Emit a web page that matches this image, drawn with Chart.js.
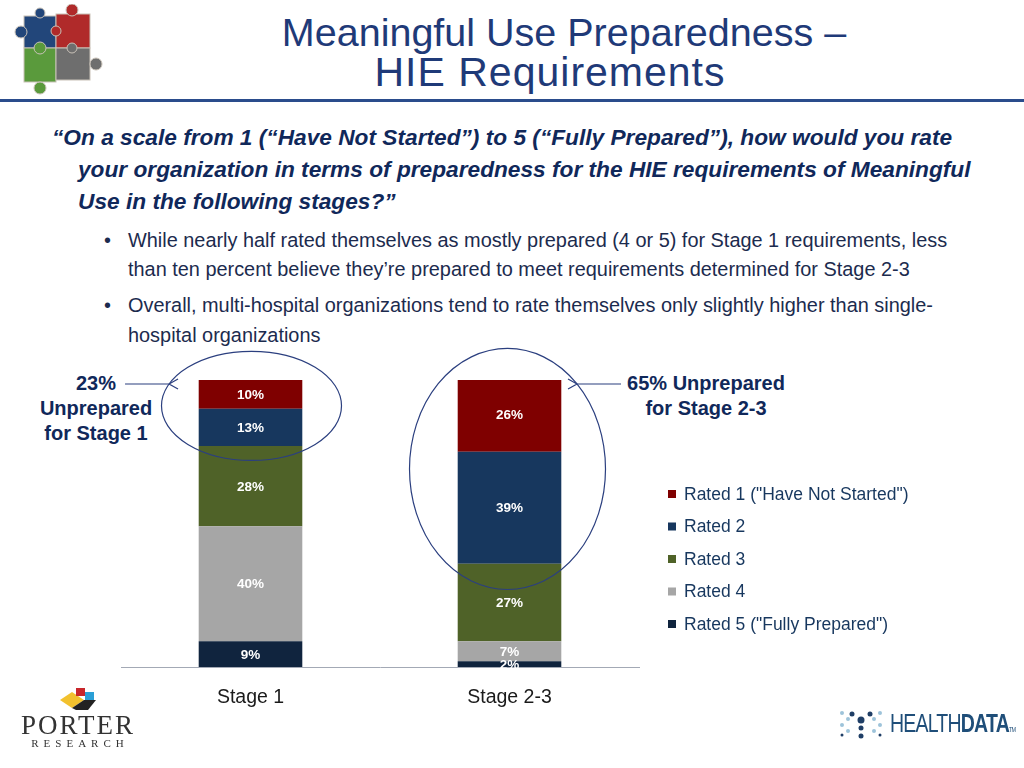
<!DOCTYPE html>
<html>
<head>
<meta charset="utf-8">
<script src="https://cdn.jsdelivr.net/npm/chart.js@4.4.0/dist/chart.umd.min.js"></script>
<style>
  html, body { margin: 0; padding: 0; background: #fff; }
  body { width: 1024px; height: 768px; position: relative; overflow: hidden; font-family: "Liberation Sans", Arial, sans-serif; }
  .abs { position: absolute; }
  .title { font-size: 39.5px; line-height: 40px; color: #1F3A78; white-space: nowrap; text-align: center; width: 700px; }
  #rule { left: 0; top: 99px; width: 1024px; height: 3px; background: #2A4C8C; }
  .q { font-size: 22.7px; line-height: 32px; font-weight: bold; font-style: italic; color: #10285A; white-space: nowrap; }
  .b { font-size: 19.9px; line-height: 29.5px; color: #1C2B4E; white-space: nowrap; }
  .note { font-size: 20px; line-height: 25px; font-weight: bold; color: #10285A; text-align: center; white-space: nowrap; }
  #chartBox { left: 0; top: 330px; width: 1024px; height: 430px; }
</style>
</head>
<body>
<svg class="abs" style="left:10px;top:4px" width="100" height="96" viewBox="0 0 100 96">
  <g stroke="#c9c2b8" stroke-width="1">
    <rect x="14" y="12" width="32" height="32" fill="#22467A"/>
    <circle cx="11" cy="28" r="6" fill="#22467A"/>
    <circle cx="30" cy="9" r="5" fill="#22467A"/>
    <rect x="46" y="10" width="34" height="34" fill="#B02A2A"/>
    <circle cx="62" cy="6" r="6" fill="#B02A2A"/>
    <circle cx="46" cy="27" r="5" fill="#B02A2A"/>
    <rect x="14" y="44" width="32" height="34" fill="#5A9A3C"/>
    <circle cx="30" cy="44" r="6" fill="#5A9A3C"/>
    <circle cx="30" cy="84" r="6" fill="#5A9A3C"/>
    <rect x="46" y="44" width="34" height="32" fill="#6E6E6E"/>
    <circle cx="86" cy="60" r="6" fill="#6E6E6E"/>
    <circle cx="62" cy="44" r="5" fill="#6E6E6E"/>
  </g>
</svg>
<div class="abs title" style="left:214px;top:12px">Meaningful Use Preparedness –</div>
<div class="abs title" style="left:200px;top:52px;font-size:41px;letter-spacing:1px">HIE Requirements</div>
<div id="rule" class="abs"></div>

<div class="abs q" style="left:52px;top:121px">“On a scale from 1 (“Have Not Started”) to 5 (“Fully Prepared”), how would you rate</div>
<div class="abs q" style="left:78px;top:153px">your organization in terms of preparedness for the HIE requirements of Meaningful</div>
<div class="abs q" style="left:78px;top:185px">Use in the following stages?”</div>

<div class="abs b" style="left:104px;top:226px">•</div>
<div class="abs b" style="left:128px;top:226px">While nearly half rated themselves as mostly prepared (4 or 5) for Stage 1 requirements, less</div>
<div class="abs b" style="left:128px;top:255px">than ten percent believe they’re prepared to meet requirements determined for Stage 2-3</div>
<div class="abs b" style="left:104px;top:291px">•</div>
<div class="abs b" style="left:128px;top:291px">Overall, multi-hospital organizations tend to rate themselves only slightly higher than single-</div>
<div class="abs b" style="left:128px;top:321px">hospital organizations</div>

<div class="abs note" style="left:16px;width:160px;top:371px">23%<br>Unprepared<br>for Stage 1</div>
<div class="abs note" style="left:606px;width:200px;top:371px">65% Unprepared<br>for Stage 2-3</div>
<div id="chartBox" class="abs"><canvas id="chart"></canvas></div>

<svg class="abs" style="left:58px;top:686px" width="42" height="26" viewBox="0 0 42 26">
  <polygon points="2,14 14,6 26,14 14,22" fill="#F2C12E"/>
  <rect x="18" y="2" width="9" height="8" fill="#C8262B"/>
  <rect x="27" y="6" width="9" height="8" fill="#2A9FD6"/>
  <polygon points="14,22 26,14 38,14 30,24 18,24" fill="#222"/>
</svg>
<div class="abs" style="left:0;width:156px;top:710px;text-align:center;font-family:'Liberation Serif',serif;font-size:27px;letter-spacing:2px;color:#333;">PORTER</div>
<div class="abs" style="left:0;width:160px;top:737px;text-align:center;font-family:'Liberation Serif',serif;font-size:11px;letter-spacing:5px;color:#333;">RESEARCH</div>
<svg class="abs" style="left:836px;top:708px" width="50" height="34" viewBox="0 0 50 34">
  <g fill="#9DC3DA"><circle cx="6" cy="5" r="2"/><circle cx="12" cy="11" r="2"/><circle cx="38" cy="11" r="2"/><circle cx="44" cy="5" r="2"/><circle cx="6" cy="17" r="2"/><circle cx="44" cy="17" r="2"/><circle cx="12" cy="23" r="2"/><circle cx="38" cy="23" r="2"/></g>
  <g fill="#1F3E66"><circle cx="16" cy="6" r="2.5"/><circle cx="34" cy="6" r="2.5"/><circle cx="25" cy="12" r="3.5"/><circle cx="25" cy="20" r="2.5"/><circle cx="25" cy="28" r="2.5"/><circle cx="6" cy="27" r="1.5"/><circle cx="44" cy="27" r="1.5"/></g>
</svg>
<div class="abs" style="left:890px;top:709px;font-size:25px;letter-spacing:-1px;color:#1F4E79;transform:scaleX(0.78);transform-origin:left top;white-space:nowrap;"><span>HEALTH</span><span style="font-weight:bold">DATA</span><span style="font-size:7px">TM</span></div>

<script>
const stages = ['Stage 1', 'Stage 2-3'];
const seriesNames = ['Rated 5 ("Fully Prepared")', 'Rated 4', 'Rated 3', 'Rated 2', 'Rated 1 ("Have Not Started")'];
const rated5 = [9, 2];
const rated4 = [40, 7];
const rated3 = [28, 27];
const rated2 = [13, 39];
const rated1 = [10, 26];
const seriesColors = ['#10243E', '#A6A6A6', '#4F6228', '#17375E', '#7F0000'];

const fontFamily = '"Liberation Sans", Arial, sans-serif';

// etiquetas de porcentaje dentro de cada segmento
const valueLabels = {
  id: 'valueLabels',
  afterDatasetsDraw(chart) {
    const ctx = chart.ctx;
    ctx.save();
    ctx.font = 'bold 13.5px ' + fontFamily;
    ctx.fillStyle = '#FFFFFF';
    ctx.textAlign = 'center';
    ctx.textBaseline = 'middle';
    chart.data.datasets.forEach((ds, i) => {
      chart.getDatasetMeta(i).data.forEach((bar, j) => {
        const p = bar.getProps(['x', 'y', 'base'], true);
        ctx.fillText(ds.data[j] + '%', p.x, (p.y + p.base) / 2 + 1);
      });
    });
    ctx.restore();
  }
};

// leyenda propia a la derecha (orden invertido)
const sideLegend = {
  id: 'sideLegend',
  afterDraw(chart) {
    const ctx = chart.ctx;
    const x = chart.chartArea.right + 29;
    let y = chart.chartArea.top + 114;
    ctx.save();
    ctx.font = '17.5px ' + fontFamily;
    ctx.textBaseline = 'middle';
    ctx.textAlign = 'left';
    chart.data.datasets.slice().reverse().forEach(ds => {
      ctx.fillStyle = ds.backgroundColor;
      ctx.fillRect(x, y - 4, 8, 8);
      ctx.fillStyle = '#17375E';
      ctx.fillText(ds.label, x + 16, y + 1);
      y += 32.5;
    });
    ctx.restore();
  }
};

// elipses y flechas de las anotaciones
const callouts = {
  id: 'callouts',
  afterDraw(chart) {
    const ctx = chart.ctx;
    const xs = chart.scales.x, ys = chart.scales.y;
    const pxPerPct = (ys.bottom - ys.top) / 100;
    const rings = [
      { cx: xs.getPixelForValue(0) + 1, cy: ys.getPixelForValue(91), rx: 90, ry: 19 * pxPerPct, side: -1 },
      { cx: xs.getPixelForValue(1) - 2, cy: ys.getPixelForValue(69), rx: 98, ry: 42 * pxPerPct, side: 1 }
    ];
    ctx.save();
    ctx.strokeStyle = '#2B3F7F';
    ctx.lineWidth = 1.2;
    rings.forEach(r => {
      ctx.beginPath();
      ctx.ellipse(r.cx, r.cy, r.rx, r.ry, 0, 0, Math.PI * 2);
      ctx.stroke();
      const ay = ys.top + 4;
      const dy = (ay - r.cy) / r.ry;
      const tipX = r.cx + r.side * r.rx * Math.sqrt(Math.max(0, 1 - dy * dy));
      const tailX = tipX + r.side * 44;
      ctx.beginPath();
      ctx.moveTo(tailX, ay);
      ctx.lineTo(tipX, ay);
      ctx.moveTo(tipX - r.side * 9, ay - 5);
      ctx.lineTo(tipX, ay);
      ctx.lineTo(tipX - r.side * 9, ay + 5);
      ctx.stroke();
    });
    ctx.restore();
  }
};

const seriesValues = [rated5, rated4, rated3, rated2, rated1];

const ctx = document.getElementById('chart').getContext('2d');
const preparednessChart = new Chart(ctx, {
  type: 'bar',
  data: {
    labels: stages,
    datasets: seriesValues.map((vals, i) => ({
      label: seriesNames[i],
      data: vals,
      backgroundColor: seriesColors[i],
      borderWidth: 0,
      categoryPercentage: 0.8,
      barPercentage: 0.5
    }))
  },
  options: {
    responsive: true,
    maintainAspectRatio: false,
    animation: false,
    layout: { padding: { left: 121, right: 385, top: 50, bottom: 33 } },
    plugins: { legend: { display: false }, tooltip: { enabled: false } },
    scales: {
      x: {
        stacked: true,
        grid: { display: false, drawTicks: false },
        border: { display: true, color: '#A3A9B5', width: 1 },
        ticks: { color: '#1A1A1A', font: { family: fontFamily, size: 19.5 }, padding: 19 },
        afterFit(scale) { scale.height = 60; }
      },
      y: {
        stacked: true,
        display: false,
        min: 0,
        max: 100
      }
    }
  },
  plugins: [valueLabels, sideLegend, callouts]
});
</script>
</body>
</html>
